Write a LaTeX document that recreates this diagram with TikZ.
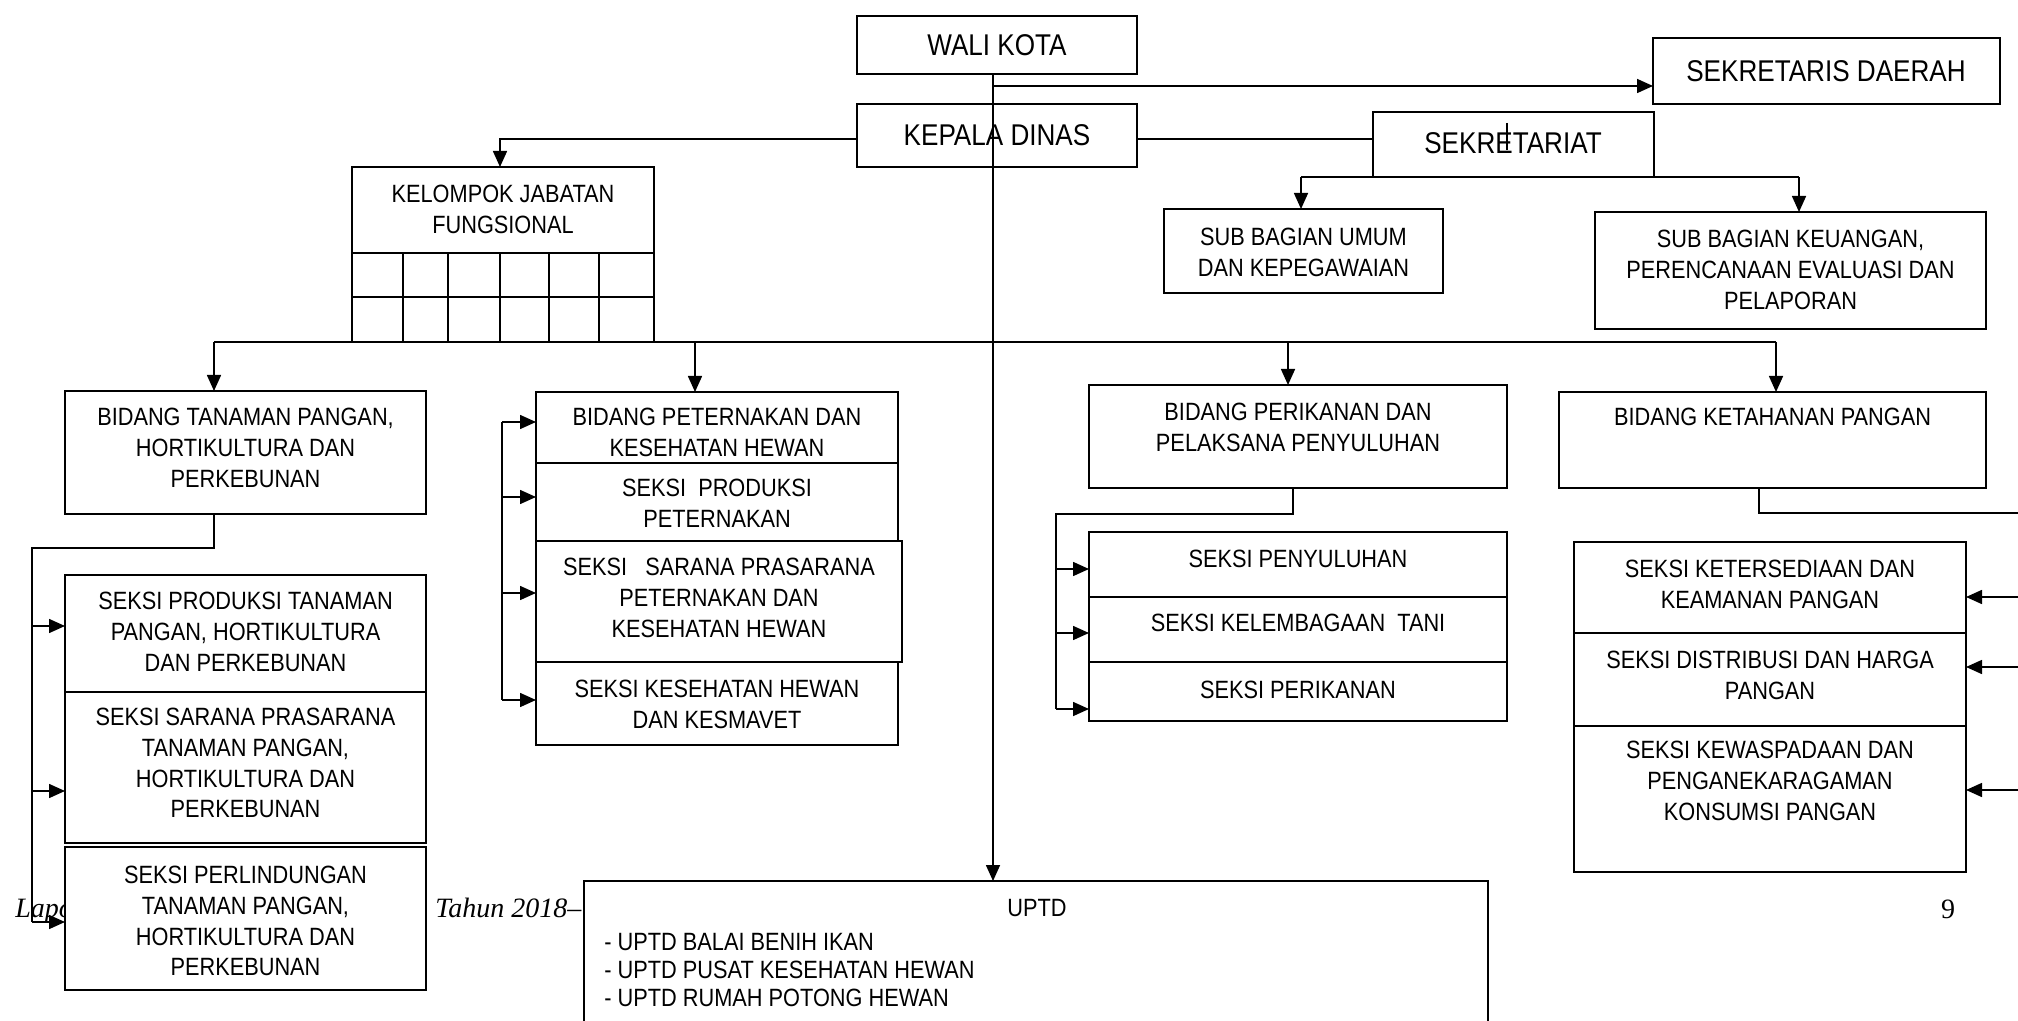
\documentclass[tikz,border=0pt]{standalone}
\usepackage{fontspec}
\setmainfont{Liberation Sans}[FakeStretch=0.87]
\newfontfamily\footfont{Liberation Serif}
\usetikzlibrary{arrows.meta}
\tikzset{
  ln/.style={line width=0.8pt},
  arr/.style={-{Triangle[length=8pt,width=7pt]}},
  bx/.style={draw, fill=white, line width=0.8pt, inner sep=0pt, outer sep=0pt},
  lbl/.style={align=center, inner sep=0pt, font=\fontsize{12.5}{15.4}\selectfont},
  big/.style={align=center, inner sep=0pt, font=\fontsize{15}{18}\selectfont},
  foot/.style={inner sep=0pt, font=\footfont\fontsize{14}{16}\selectfont}
}
\newcommand{\obox}[5]{\node[bx, minimum width={(#4-#2)*0.5pt}, minimum height={(#5-#3)*0.5pt}] (#1) at ({(#2+#4)/2},{(#3+#5)/2}) {};}
\begin{document}
\begin{tikzpicture}[x=0.5pt,y=-0.5pt]
\useasboundingbox (0,0) rectangle (2018,1021);
\clip (0,0) rectangle (2018,1021);
% footer (partly covered by boxes)
\node[foot, anchor=base west] (flap) at (15,917) {\itshape Lapo};
\node[foot, anchor=base west] (ftah) at (435,917) {\itshape Tahun 2018–};
\node[foot, anchor=base] (fnum) at (1948,918) {9};

% top level
\obox{wali}{857}{16}{1137}{74}
\node[big] (twali) at (997,45) {WALI KOTA};
\obox{kepala}{857}{104}{1137}{167}
\node[big] (tkepala) at (997,135.5) {KEPALA DINAS};
\obox{sekda}{1653}{38}{2000}{104}
\node[big] (tsekda) at (1826,71) {SEKRETARIS DAERAH};
\obox{sekr}{1373}{112}{1654}{177}
\node[big] (tsekr) at (1513,143) {SEKRETARIAT};
\draw[ln] (1507,123) -- (1507,150);

% kelompok jabatan fungsional
\obox{kjf}{352}{167}{654}{342}
\node[lbl] (tkjf) at (503,209) {KELOMPOK JABATAN\\FUNGSIONAL};
\draw[ln] (kjf.west |- 0,253) -- (kjf.east |- 0,253);
\draw[ln] (kjf.west |- 0,297) -- (kjf.east |- 0,297);
\foreach \xx in {403,448,500,549,599} {\draw[ln] (\xx,253) -- (\xx,342);}

% sub bagian
\obox{subum}{1164}{209}{1443}{293}
\node[lbl] (tsubum) at (1303.5,252) {SUB BAGIAN UMUM\\DAN KEPEGAWAIAN};
\obox{subkeu}{1595}{212}{1986}{329}
\node[lbl] (tsubkeu) at (1790.5,270) {SUB BAGIAN KEUANGAN,\\PERENCANAAN EVALUASI DAN\\PELAPORAN};

% bidang tanaman pangan
\obox{bt}{65}{391}{426}{514}
\node[lbl] (tbt) at (245.5,448) {BIDANG TANAMAN PANGAN,\\HORTIKULTURA DAN\\PERKEBUNAN};
\obox{st1}{65}{575}{426}{692}
\node[lbl] (tst1) at (245.5,632) {SEKSI PRODUKSI TANAMAN\\PANGAN, HORTIKULTURA\\DAN PERKEBUNAN};
\obox{st2}{65}{692}{426}{843}
\node[lbl] (tst2) at (245.5,763) {SEKSI SARANA PRASARANA\\TANAMAN PANGAN,\\HORTIKULTURA DAN\\PERKEBUNAN};
\obox{st3}{65}{847}{426}{990}
\node[lbl] (tst3) at (245.5,921) {SEKSI PERLINDUNGAN\\TANAMAN PANGAN,\\HORTIKULTURA DAN\\PERKEBUNAN};

% bidang peternakan
\obox{bp}{536}{392}{898}{463}
\node[lbl] (tbp) at (717,432) {BIDANG PETERNAKAN DAN\\KESEHATAN HEWAN};
\obox{sp1}{536}{463}{898}{541}
\node[lbl] (tsp1) at (717,503) {SEKSI\ \ PRODUKSI\\PETERNAKAN};
\obox{sp2}{536}{541}{902}{662}
\node[lbl] (tsp2) at (719,598) {SEKSI\ \ \ SARANA PRASARANA\\PETERNAKAN DAN\\KESEHATAN HEWAN};
\obox{sp3}{536}{662}{898}{745}
\node[lbl] (tsp3) at (717,704) {SEKSI KESEHATAN HEWAN\\DAN KESMAVET};

% bidang perikanan
\obox{bpk}{1089}{385}{1507}{488}
\node[lbl] (tbpk) at (1298,427.5) {BIDANG PERIKANAN DAN\\PELAKSANA PENYULUHAN};
\obox{sk1}{1089}{532}{1507}{597}
\node[lbl] (tsk1) at (1298,559) {SEKSI PENYULUHAN};
\obox{sk2}{1089}{597}{1507}{662}
\node[lbl] (tsk2) at (1298,623) {SEKSI KELEMBAGAAN\ \ TANI};
\obox{sk3}{1089}{662}{1507}{721}
\node[lbl] (tsk3) at (1298,690) {SEKSI PERIKANAN};

% bidang ketahanan pangan
\obox{bkp}{1559}{392}{1986}{488}
\node[lbl] (tbkp) at (1772.5,417) {BIDANG KETAHANAN PANGAN};
\obox{kp1}{1574}{542}{1966}{633}
\node[lbl] (tkp1) at (1770,584) {SEKSI KETERSEDIAAN DAN\\KEAMANAN PANGAN};
\obox{kp2}{1574}{633}{1966}{726}
\node[lbl] (tkp2) at (1770,675) {SEKSI DISTRIBUSI DAN HARGA\\PANGAN};
\obox{kp3}{1574}{726}{1966}{872}
\node[lbl] (tkp3) at (1770,781) {SEKSI KEWASPADAAN DAN\\PENGANEKARAGAMAN\\KONSUMSI PANGAN};

% UPTD
\obox{uptd}{584}{881}{1488}{1040}
\node[lbl, anchor=west] (tuptd) at (1007,908) {UPTD};
\node[lbl, anchor=west, align=left, font=\fontsize{12.5}{14}\selectfont] (tuplist) at (604,970) {- UPTD BALAI BENIH IKAN\\- UPTD PUSAT KESEHATAN HEWAN\\- UPTD RUMAH POTONG HEWAN};

% ---- connectors ----
\coordinate (spine) at (993,0);
\draw[ln,arr] (wali.south -| spine) -- (uptd.north -| spine);
\coordinate (ysd) at (0,86);
\draw[ln,arr] (spine |- ysd) -- (sekda.west |- ysd);
\coordinate (ykd) at (0,139);
\coordinate (xkj) at (500,0);
\draw[ln,arr] (kepala.west |- ykd) -- (xkj |- ykd) -- (kjf.north -| xkj);
\draw[ln] (kepala.east |- ykd) -- (sekr.west |- ykd);
\coordinate (xsu) at (1301,0);
\coordinate (xsk) at (1799,0);
\draw[ln] (sekr.south -| xsu) -- (sekr.south -| xsk);
\draw[ln,arr] (sekr.south -| xsu) -- (subum.north -| xsu);
\draw[ln,arr] (sekr.south -| xsk) -- (subkeu.north -| xsk);

% main bus
\coordinate (ybus) at (0,342);
\coordinate (xb1) at (214,0);
\coordinate (xb2) at (695,0);
\coordinate (xb3) at (1288,0);
\coordinate (xb4) at (1776,0);
\draw[ln] (xb1 |- ybus) -- (xb4 |- ybus);
\draw[ln,arr] (xb1 |- ybus) -- (bt.north -| xb1);
\draw[ln,arr] (xb2 |- ybus) -- (bp.north -| xb2);
\draw[ln,arr] (xb3 |- ybus) -- (bpk.north -| xb3);
\draw[ln,arr] (xb4 |- ybus) -- (bkp.north -| xb4);

% tanaman chain
\coordinate (xl) at (32,0);
\coordinate (yl) at (0,548);
\coordinate (at1) at (32,626);
\coordinate (at2) at (32,791);
\coordinate (at3) at (32,922);
\draw[ln] (bt.south -| xb1) -- (xb1 |- yl) -- (xl |- yl) -- (at3);
\draw[ln,arr] (at1) -- (at1 -| st1.west);
\draw[ln,arr] (at2) -- (at2 -| st2.west);
\draw[ln,arr] (at3) -- (at3 -| st3.west);

% peternakan bracket
\coordinate (ap0) at (502,422);
\coordinate (ap1) at (502,497);
\coordinate (ap2) at (502,593);
\coordinate (ap3) at (502,700);
\draw[ln] (ap0) -- (ap3);
\draw[ln,arr] (ap0) -- (ap0 -| bp.west);
\draw[ln,arr] (ap1) -- (ap1 -| sp1.west);
\draw[ln,arr] (ap2) -- (ap2 -| sp2.west);
\draw[ln,arr] (ap3) -- (ap3 -| sp3.west);

% perikanan chain
\coordinate (xpk) at (1293,0);
\coordinate (ypk) at (0,514);
\coordinate (ak1) at (1056,569);
\coordinate (ak2) at (1056,633);
\coordinate (ak3) at (1056,709);
\draw[ln] (bpk.south -| xpk) -- (xpk |- ypk) -- (ak1 |- ypk) -- (ak3);
\draw[ln,arr] (ak1) -- (ak1 -| sk1.west);
\draw[ln,arr] (ak2) -- (ak2 -| sk2.west);
\draw[ln,arr] (ak3) -- (ak3 -| sk3.west);

% ketahanan chain (right spine lies beyond the page edge)
\coordinate (xkt) at (1759,0);
\coordinate (ykt) at (0,513);
\coordinate (ar0) at (2030,513);
\coordinate (ar1) at (2030,597);
\coordinate (ar2) at (2030,667);
\coordinate (ar3) at (2030,790);
\draw[ln] (bkp.south -| xkt) -- (xkt |- ykt) -- (ar0) -- (ar3);
\draw[ln,arr] (ar1) -- (ar1 -| kp1.east);
\draw[ln,arr] (ar2) -- (ar2 -| kp2.east);
\draw[ln,arr] (ar3) -- (ar3 -| kp3.east);
\end{tikzpicture}
\end{document}
